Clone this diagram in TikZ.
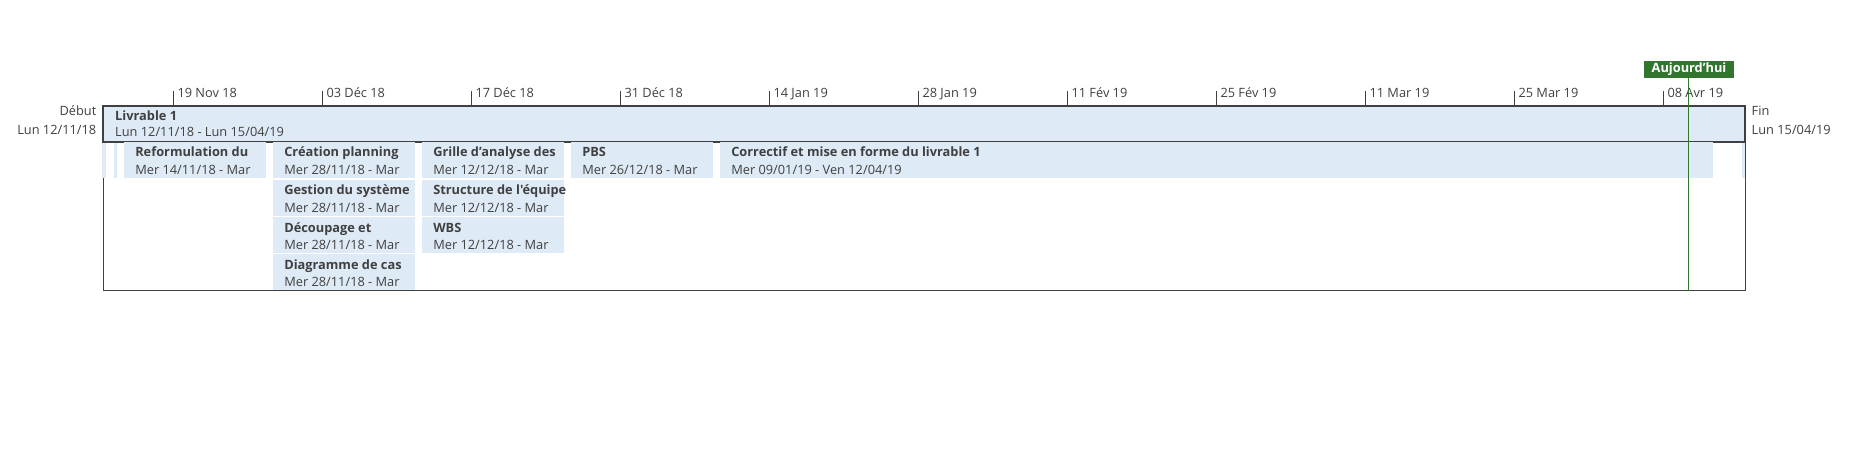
\documentclass[tikz,border=0pt]{standalone}
\usepackage{fontspec}
\newfontfamily\police{Open Sans}
\definecolor{barre}{RGB}{222,234,246}
\definecolor{texte}{RGB}{64,64,64}
\definecolor{vert}{RGB}{49,117,47}
\newcommand{\tache}[6]{%
	\fill[barre] (#2,#4) rectangle (#3,#4+35.7);
	\node[titre] (#1) at (#2+11.5,#4+14.7) {#5};
	\node[soustitre] (#1-d) at (#2+11.5,#4+32) {#6};
}

\begin{document}
\begin{tikzpicture}[x=1pt,y=-1pt,
	every node/.style={inner sep=0pt,text=texte,font=\police\fontsize{12.8}{15}\selectfont},
	titre/.style={anchor=base west,font=\police\fontsize{12.8}{15}\selectfont\bfseries},
	soustitre/.style={anchor=base west},
	graduation/.style={draw=texte,line width=1pt}]
	\useasboundingbox (0,0) rectangle (1850,453);
	\foreach \lib [count=\k from 0] in {19 Nov 18,03 Déc 18,17 Déc 18,31 Déc 18,14 Jan 19,28 Jan 19,11 Fév 19,25 Fév 19,11 Mar 19,25 Mar 19,08 Avr 19}{
		\draw[graduation] (173.3+149*\k,105.7) -- (173.3+149*\k,90.7);
		\node[anchor=base west] (g\k) at (173.3+149*\k+4,97.3) {\lib};
	}
	\draw[texte,line width=1pt] (103,105.7) rectangle (1745.3,290);
	\filldraw[fill=barre,draw=texte,line width=2pt] (103,105.7) rectangle (1745.3,141.7);
	\node[titre] (livrable) at (115,120) {Livrable 1};
	\node[soustitre] (livrable-d) at (115,136) {Lun 12/11/18 - Lun 15/04/19};
	\node[anchor=base east] (debut) at (96.5,115.7) {Début};
	\node[anchor=base east] (debut-d) at (96.5,134.3) {Lun 12/11/18};
	\node[anchor=base west] (fin) at (1751.5,115.7) {Fin};
	\node[anchor=base west] (fin-d) at (1751.5,134.3) {Lun 15/04/19};
	\fill[barre] (102.3,142.7) rectangle (106,177.7);
	\fill[barre] (114,142.7) rectangle (117,177.7);
	\fill[barre] (1741.5,142.7) rectangle (1744.8,177.7);
	\tache{reform}{123.6}{265.7}{142}{Reformulation du}{Mer 14/11/18 - Mar}
	\tache{creation}{272.6}{415}{142}{Création planning}{Mer 28/11/18 - Mar}
	\tache{gestion}{272.6}{415}{180}{Gestion du système}{Mer 28/11/18 - Mar}
	\tache{decoupage}{272.6}{415}{217.3}{Découpage et}{Mer 28/11/18 - Mar}
	\tache{diagramme}{272.6}{415}{254.3}{Diagramme de cas}{Mer 28/11/18 - Mar}
	\tache{grille}{421.6}{564}{142}{Grille d’analyse des}{Mer 12/12/18 - Mar}
	\tache{structure}{421.6}{564}{180}{Structure de l'équipe}{Mer 12/12/18 - Mar}
	\tache{wbs}{421.6}{564}{217.3}{WBS}{Mer 12/12/18 - Mar}
	\tache{pbs}{570.6}{712.7}{142}{PBS}{Mer 26/12/18 - Mar}
	\tache{correctif}{719.6}{1713.4}{142}{Correctif et mise en forme du livrable 1}{Mer 09/01/19 - Ven 12/04/19}
	\node[fill=vert,text=white,minimum width=90.3pt,minimum height=16.7pt,font=\police\fontsize{12.8}{15}\selectfont\bfseries] (aujourdhui) at (1689,69.3) {Aujourd’hui};
	\coordinate (bas) at (1688.3,290.7);
	\draw[vert,line width=1pt] (aujourdhui.south -| bas) -- (bas);
\end{tikzpicture}
\end{document}
